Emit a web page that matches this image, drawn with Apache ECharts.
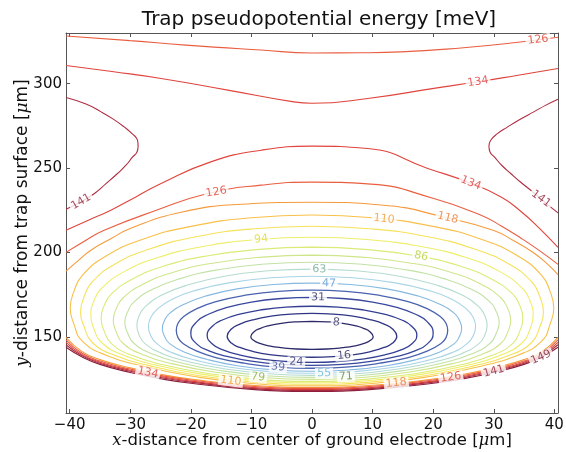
<!DOCTYPE html>
<html>
<head>
<meta charset="utf-8">
<script src="https://cdn.jsdelivr.net/npm/echarts@6/dist/echarts.min.js"></script>
<style>
  html, body { margin: 0; background: #fff; }
  #chart { width: 566px; height: 452px; }
</style>
</head>
<body>
<div id="chart"></div>
<script>
// contour levels [meV]
const levels = [8, 16, 24, 31, 39, 47, 55, 63, 71, 79, 86, 94, 102, 110, 118, 126, 134, 141, 149];
const xTicks = [-40, -30, -20, -10, 0, 10, 20, 30, 40];
const yTicks = [150, 200, 250, 300];

// closed contours of the well, [x um, y um]
const contour8 = [[0,159.3],[2.5,159.0],[5.05,158.1],[7.1,156.7],[8.6,155.0],[9.6,153.0],[10.1,150.2],[9.6,147.9],[8.6,146.2],[7.1,144.8],[5.05,143.7],[2.5,142.9],[0,142.7],[-2.5,142.9],[-5.05,143.7],[-7.1,144.8],[-8.6,146.2],[-9.6,147.9],[-10.1,150.2],[-9.6,153.0],[-8.6,155.0],[-7.1,156.7],[-5.05,158.1],[-2.5,159.0],[0,159.3]];
const contour16 = [[0,164.0],[3.5,163.6],[7.0,162.2],[9.8,160.1],[11.9,157.6],[13.3,154.7],[14.0,150.4],[13.3,146.4],[11.9,143.8],[9.8,141.5],[7.0,139.6],[3.5,138.4],[0,138.0],[-3.5,138.4],[-7.0,139.6],[-9.8,141.5],[-11.9,143.8],[-13.3,146.4],[-14.0,150.4],[-13.3,154.7],[-11.9,157.6],[-9.8,160.1],[-7.0,162.2],[-3.5,163.6],[0,164.0]];
const contour24 = [[0,168.2],[4.3,167.7],[8.65,165.9],[12.1,163.4],[14.7,160.2],[16.4,156.5],[17.3,151.0],[16.4,145.7],[14.7,142.4],[12.1,139.5],[8.65,137.1],[4.3,135.5],[0,135.0],[-4.3,135.5],[-8.65,137.1],[-12.1,139.5],[-14.7,142.4],[-16.4,145.7],[-17.3,151.0],[-16.4,156.5],[-14.7,160.2],[-12.1,163.4],[-8.65,165.9],[-4.3,167.7],[0,168.2]];
const contour31 = [[0,173.5],[5.0,172.8],[10.0,170.7],[14.0,167.5],[17.0,163.6],[19.0,159.1],[20.0,152.2],[19.0,145.8],[17.0,141.8],[14.0,138.5],[10.0,135.7],[5.0,133.8],[0,133.2],[-5.0,133.8],[-10.0,135.7],[-14.0,138.5],[-17.0,141.8],[-19.0,145.8],[-20.0,152.2],[-19.0,159.1],[-17.0,163.6],[-14.0,167.5],[-10.0,170.7],[-5.0,172.8],[0,173.5]];
const contour39 = [[0,177.7],[5.6,177.0],[11.2,174.6],[15.7,171.1],[19.0,166.8],[21.3,161.7],[22.1,158.3],[22.4,154.0],[22.1,149.5],[21.3,146.2],[19.0,141.6],[15.7,137.7],[11.2,134.5],[5.6,132.2],[0,131.5],[-5.6,132.2],[-11.2,134.5],[-15.7,137.7],[-19.0,141.6],[-21.3,146.2],[-22.1,149.5],[-22.4,154.0],[-22.1,158.3],[-21.3,161.7],[-19.0,166.8],[-15.7,171.1],[-11.2,174.6],[-5.6,177.0],[0,177.7]];
const contour47 = [[0,181.9],[6.2,181.1],[12.35,178.5],[17.3,174.5],[21.0,169.6],[23.5,164.0],[24.3,160.0],[24.7,155.2],[24.3,150.1],[23.5,146.1],[21.0,141.0],[17.3,136.7],[12.35,133.0],[6.2,130.5],[0,129.7],[-6.2,130.5],[-12.35,133.0],[-17.3,136.7],[-21.0,141.0],[-23.5,146.1],[-24.3,150.1],[-24.7,155.2],[-24.3,160.0],[-23.5,164.0],[-21.0,169.6],[-17.3,174.5],[-12.35,178.5],[-6.2,181.1],[0,181.9]];
const contour55 = [[0,186.0],[6.75,185.1],[13.5,182.2],[18.9,177.9],[23.0,172.5],[25.65,166.1],[26.6,161.6],[27.0,156.3],[26.6,150.7],[25.65,146.2],[23.0,140.6],[18.9,136.0],[13.5,132.1],[6.75,129.4],[0,128.5],[-6.75,129.4],[-13.5,132.1],[-18.9,136.0],[-23.0,140.6],[-25.65,146.2],[-26.6,150.7],[-27.0,156.3],[-26.6,161.6],[-25.65,166.1],[-23.0,172.5],[-18.9,177.9],[-13.5,182.2],[-6.75,185.1],[0,186.0]];
const contour63 = [[0,190.2],[7.2,189.2],[14.45,186.0],[20.2,181.1],[24.6,175.1],[27.5,168.0],[28.5,162.9],[28.9,156.9],[28.5,151.0],[27.5,145.9],[24.6,140.0],[20.2,135.2],[14.45,131.2],[7.2,128.2],[0,127.3],[-7.2,128.2],[-14.45,131.2],[-20.2,135.2],[-24.6,140.0],[-27.5,145.9],[-28.5,151.0],[-28.9,156.9],[-28.5,162.9],[-27.5,168.0],[-24.6,175.1],[-20.2,181.1],[-14.45,186.0],[-7.2,189.2],[0,190.2]];
const contour71 = [[0,194.3],[7.7,193.2],[15.45,189.8],[21.6,184.7],[26.3,178.3],[29.4,170.7],[30.4,165.1],[30.9,158.7],[30.4,152.2],[29.4,146.3],[26.3,139.9],[21.6,134.7],[15.45,130.3],[7.7,127.1],[0,126.1],[-7.7,127.1],[-15.45,130.3],[-21.6,134.7],[-26.3,139.9],[-29.4,146.3],[-30.4,152.2],[-30.9,158.7],[-30.4,165.1],[-29.4,170.7],[-26.3,178.3],[-21.6,184.7],[-15.45,189.8],[-7.7,193.2],[0,194.3]];
const contour79 = [[0,198.5],[8.2,197.3],[16.4,193.7],[23.0,188.2],[27.9,181.3],[31.2,173.1],[32.3,166.8],[32.8,159.9],[32.3,152.9],[31.2,146.3],[27.9,139.5],[23.0,134.1],[16.4,129.4],[8.2,126.0],[0,124.9],[-8.2,126.0],[-16.4,129.4],[-23.0,134.1],[-27.9,139.5],[-31.2,146.3],[-32.3,152.9],[-32.8,159.9],[-32.3,166.8],[-31.2,173.1],[-27.9,181.3],[-23.0,188.2],[-16.4,193.7],[-8.2,197.3],[0,198.5]];
const contour86 = [[0,203.2],[8.7,201.9],[17.4,198.0],[24.4,192.0],[29.6,184.4],[33.1,175.5],[34.3,168.6],[34.8,161.0],[34.3,153.5],[33.1,146.1],[29.6,139.0],[24.4,133.4],[17.4,128.5],[8.7,124.9],[0,123.7],[-8.7,124.9],[-17.4,128.5],[-24.4,133.4],[-29.6,139.0],[-33.1,146.1],[-34.3,153.5],[-34.8,161.0],[-34.3,168.6],[-33.1,175.5],[-29.6,184.4],[-24.4,192.0],[-17.4,198.0],[-8.7,201.9],[0,203.2]];
const contour94 = [[0,209.1],[9.1,207.7],[18.25,203.4],[25.55,196.9],[31.0,188.7],[34.7,178.9],[36.0,171.2],[36.5,162.9],[36.0,154.9],[34.7,146.6],[31.0,139.1],[25.55,133.2],[18.25,128.0],[9.1,124.1],[0,122.9],[-9.1,124.1],[-18.25,128.0],[-25.55,133.2],[-31.0,139.1],[-34.7,146.6],[-36.0,154.9],[-36.5,162.9],[-36.0,171.2],[-34.7,178.9],[-31.0,188.7],[-25.55,196.9],[-18.25,203.4],[-9.1,207.7],[0,209.1]];
const contour102 = [[0,215.6],[9.55,214.1],[19.1,209.4],[26.7,202.2],[32.5,193.2],[36.3,182.5],[37.6,173.8],[38.2,164.6],[37.6,156.1],[36.3,146.9],[32.5,139.0],[26.7,132.9],[19.1,127.4],[9.55,123.3],[0,122.0],[-9.55,123.3],[-19.1,127.4],[-26.7,132.9],[-32.5,139.0],[-36.3,146.9],[-37.6,156.1],[-38.2,164.6],[-37.6,173.8],[-36.3,182.5],[-32.5,193.2],[-26.7,202.2],[-19.1,209.4],[-9.55,214.1],[0,215.6]];
const contour110 = [[0,222.2],[10.0,220.6],[19.95,215.5],[27.9,207.9],[33.9,198.1],[37.9,186.5],[39.3,176.9],[39.9,167.0],[39.3,157.8],[37.9,147.5],[33.9,139.1],[27.9,132.7],[19.95,126.9],[10.0,122.5],[0,121.1],[-10.0,122.5],[-19.95,126.9],[-27.9,132.7],[-33.9,139.1],[-37.9,147.5],[-39.3,157.8],[-39.9,167.0],[-39.3,176.9],[-37.9,186.5],[-33.9,198.1],[-27.9,207.9],[-19.95,215.5],[-10.0,220.6],[0,222.2]];

// open contours above the well, running out through the side edges
const upper118 = [[-40.6,189.0],[-38.5,195.5],[-36.5,201.4],[-33.2,208.2],[-29.9,214.4],[-21.6,223.9],[-11.7,228.6],[0,229.8],[11.4,228.2],[22.4,220.5],[29.9,213.2],[33.3,207.0],[36.5,200.0],[38.6,194.0],[40.6,187.0]];
const upper126 = [[-40.6,200.1],[-37.5,206.9],[-34.3,213.2],[-25.7,225.0],[-17.2,235.0],[-8.4,239.9],[0,241.7],[9.7,240.5],[20.1,232.0],[27.9,222.1],[31.3,215.6],[34.5,208.5],[37.6,201.0],[40.6,193.0]];
const upper134 = [[-40.6,213.2],[-37.0,219.0],[-33.2,225.1],[-29.0,233.1],[-24.9,240.9],[-16.7,253.7],[-8.4,260.6],[0,263.0],[9.2,261.6],[19.1,249.8],[26.2,241.1],[31.2,232.9],[34.2,225.2],[37.5,214.5],[40.6,203.0]];
const loop141L = [[-40.6,291.8],[-37.3,287.9],[-34.8,283.3],[-32.8,279.0],[-31.0,274.4],[-29.7,270.4],[-28.8,266.5],[-28.7,263.0],[-28.9,259.4],[-29.6,256.6],[-30.7,251.7],[-32.1,246.8],[-34.0,240.8],[-35.9,235.0],[-38.1,230.1],[-40.6,225.7]];
const loop141R = [[40.6,290.8],[38.6,287.3],[36.6,283.3],[34.3,278.8],[32.3,274.4],[30.6,270.4],[29.5,266.5],[29.2,263.0],[29.4,259.4],[30.1,256.6],[31.3,251.7],[32.8,246.8],[34.4,241.8],[36.1,236.9],[38.3,230.2],[40.6,223.5]];
const top134 = [[-40.6,310.8],[-33.0,307.2],[-24.9,303.1],[-13.9,296.2],[-3.0,289.2],[0,288.4],[9.2,291.2],[20.1,297.2],[27.4,301.1],[34.0,305.0],[40.6,309.0]];
const top126 = [[-40.6,328.2],[-30,325.5],[-20.8,322.8],[-8.4,319.9],[0,318.2],[8,318.3],[14.7,318.8],[25,321.3],[33.3,324.2],[40.6,327.5]];

// dense band near the trap surface
const bandX = [-40.6, -38, -35, -30, -25, -20, -10, 0, 10, 20, 25, 30, 35, 38, 40.6];
const band118 = [149.8,141.5,136.6,131.7,127.9,125.1,121.4,120.2,121.4,125.1,127.9,131.7,136.6,141.5,149.8];
const band126 = [148.3,140.5,135.8,131.0,127.2,124.5,120.8,119.6,120.8,124.5,127.2,131.0,135.8,140.5,148.3];
const band134 = [146.8,139.7,135.1,130.3,126.6,123.9,120.2,119.0,120.2,123.9,126.6,130.3,135.1,139.7,146.8];
const band141 = [145.4,139.0,134.5,129.7,126.0,123.3,119.6,118.4,119.6,123.3,126.0,129.7,134.5,139.0,145.4];
const band149 = [143.9,138.3,133.8,129.0,125.3,122.6,119.0,117.8,119.0,122.6,125.3,129.0,133.8,138.3,143.9];

// inline contour labels
const labelText = ['8','16','24','31','39','47','55','63','71','79','86','94','110','110','118','118','126','126','126','134','134','134','141','141','141','149'];
const labelX = [4.0,5.3,-2.6,1.0,-5.6,2.8,2.0,1.2,5.6,-8.9,18.0,-8.4,11.9,-13.4,22.4,13.9,-15.8,22.9,37.3,26.2,27.4,-27.1,-38.1,37.8,30.0,37.8];
const labelY = [158.5,139.0,135.2,173.4,132.1,181.6,128.5,190.1,126.6,126.2,197.8,207.9,219.9,124.0,220.5,122.8,235.8,126.1,326.0,241.1,301.1,128.8,230.1,231.8,129.7,138.0];

const lineColors = ['#2c2a6b','#2f3584','#343f93','#39479c','#4a62b0','#86b9e0','#a8d4e6','#b6dccf','#c3e2a6','#cfe58c','#dceb78','#eeee6a','#f6e25a','#f8c048','#f59a3c','#ea5e40','#e0443c','#b02c40','#8c1f3c'];
const textColors = ['#2a2a60','#2a2a60','#2a3070','#2a2a60','#4050a0','#5a98d6','#6ab4d4','#74a89a','#5a8a38','#8ab040','#b8cf40','#dcd830','#e8c040','#f09a30','#e87a30','#e04030','#e03838','#902038','#7a1830'];
const labelAngle = [-6,5,-2,-1,-6,-1,1,-1,3,-6,-11,6,-6,-7,-13,6,9,9,7,-22,9,-12,30,-36,15,23];

function colorOf(level, list) {
  return list[levels.indexOf(level)];
}

function contourSeries(data, level) {
  return {
    type: 'line',
    data: data,
    smooth: 0.5,
    symbol: 'none',
    silent: true,
    z: 2,
    lineStyle: { color: colorOf(level, lineColors), width: level <= 39 ? 1.3 : 1.1 }
  };
}

function band(ys) {
  return bandX.map((x, i) => [x, ys[i]]);
}

const series = [
  contourSeries(contour8, 8),
  contourSeries(contour16, 16),
  contourSeries(contour24, 24),
  contourSeries(contour31, 31),
  contourSeries(contour39, 39),
  contourSeries(contour47, 47),
  contourSeries(contour55, 55),
  contourSeries(contour63, 63),
  contourSeries(contour71, 71),
  contourSeries(contour79, 79),
  contourSeries(contour86, 86),
  contourSeries(contour94, 94),
  contourSeries(contour102, 102),
  contourSeries(contour110, 110),
  contourSeries(upper118, 118),
  contourSeries(upper126, 126),
  contourSeries(upper134, 134),
  contourSeries(loop141L, 141),
  contourSeries(loop141R, 141),
  contourSeries(top134, 134),
  contourSeries(top126, 126),
  contourSeries(band(band118), 118),
  contourSeries(band(band126), 126),
  contourSeries(band(band134), 134),
  contourSeries(band(band141), 141),
  contourSeries(band(band149), 149)
];

// labels sit on white boxes so the lines look broken under them
series.push({
  type: 'scatter',
  silent: true,
  z: 5,
  symbolSize: 1,
  itemStyle: { color: 'rgba(0,0,0,0)' },
  data: labelText.map((t, i) => ({
    value: [labelX[i], labelY[i]],
    label: {
      show: true,
      position: 'inside',
      formatter: t,
      rotate: labelAngle[i],
      color: colorOf(Number(t), textColors),
      fontSize: 11,
      fontFamily: 'DejaVu Sans',
      backgroundColor: '#fff',
      padding: [0, 2]
    }
  }))
});

const minus = (v) => String(v).replace('-', '\u2212');
const spine = { show: true, onZero: false, lineStyle: { color: '#555', width: 1 } };

const option = {
  animation: false,
  backgroundColor: '#fff',
  title: {
    text: 'Trap pseudopotential energy [meV]',
    left: 314,
    textAlign: 'center',
    top: 5,
    textStyle: { fontFamily: 'DejaVu Sans', fontSize: 20, fontWeight: 'normal', color: '#111' }
  },
  grid: { left: 66, right: 8, top: 33, bottom: 39, containLabel: false, outerBoundsMode: 'none' },
  xAxis: [
    {
      type: 'value', min: -40.6, max: 40.6, position: 'bottom',
      axisLine: spine,
      axisTick: { inside: true, length: 4, customValues: xTicks, lineStyle: { color: '#555' } },
      axisLabel: { customValues: xTicks, formatter: minus, fontSize: 15, margin: 5, color: '#111', fontFamily: 'DejaVu Sans' },
      splitLine: { show: false },
      name: '{i|x}-distance from center of ground electrode [{i|\u03bc}m]',
      nameLocation: 'middle',
      nameGap: 19,
      nameMoveOverlap: false,
      nameTextStyle: {
        fontSize: 16.5, fontFamily: 'DejaVu Sans', color: '#111',
        rich: { i: { fontSize: 16.5, fontFamily: 'DejaVu Serif', fontStyle: 'italic', color: '#111' } }
      }
    },
    {
      type: 'value', min: -40.6, max: 40.6, position: 'top',
      axisLine: spine,
      axisTick: { inside: true, length: 4, customValues: xTicks, lineStyle: { color: '#555' } },
      axisLabel: { show: false },
      splitLine: { show: false }
    }
  ],
  yAxis: [
    {
      type: 'value', min: 105, max: 330, position: 'left',
      axisLine: spine,
      axisTick: { inside: true, length: 4, customValues: yTicks, lineStyle: { color: '#555' } },
      axisLabel: { customValues: yTicks, fontSize: 15, margin: 4, color: '#111', fontFamily: 'DejaVu Sans' },
      splitLine: { show: false },
      name: '{i|y}-distance from trap surface [{i|\u03bc}m]',
      nameLocation: 'middle',
      nameGap: 35,
      nameMoveOverlap: false,
      nameTextStyle: {
        fontSize: 17, fontFamily: 'DejaVu Sans', color: '#111',
        rich: { i: { fontSize: 17, fontFamily: 'DejaVu Serif', fontStyle: 'italic', color: '#111' } }
      }
    },
    {
      type: 'value', min: 105, max: 330, position: 'right',
      axisLine: spine,
      axisTick: { inside: true, length: 4, customValues: yTicks, lineStyle: { color: '#555' } },
      axisLabel: { show: false },
      splitLine: { show: false }
    }
  ],
  series: series
};

const chart = echarts.init(document.getElementById('chart'));
chart.setOption(option);
</script>
</body>
</html>
